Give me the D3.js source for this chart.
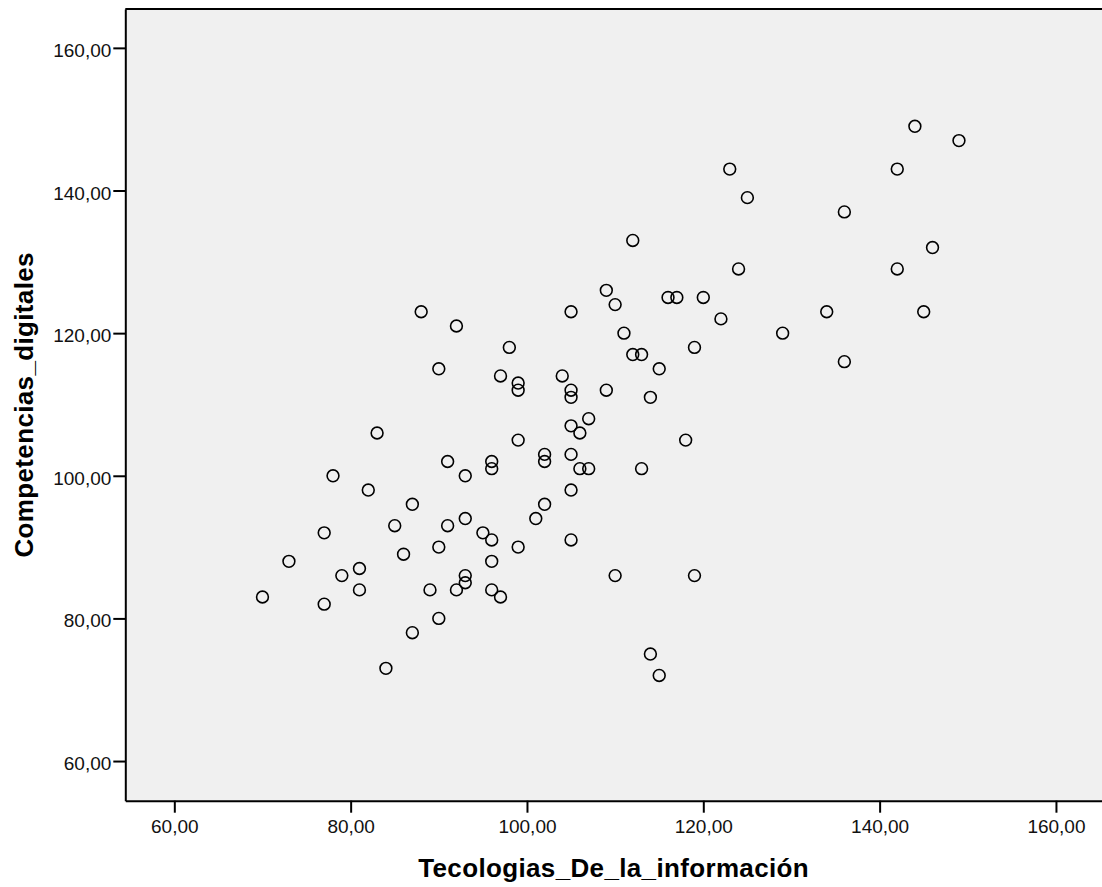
<!DOCTYPE html>
<html lang="es">
<head>
<meta charset="UTF-8">
<title>Dispersión</title>
<script src="https://d3js.org/d3.v7.min.js"></script>
<style>
    body {
        margin: 0;
        padding: 0;
        background: #fff;
        font-family: "Liberation Sans", Arial, sans-serif;
    }
    .axis text {
        font-size: 19px;
        fill: #111;
        font-family: "Liberation Sans", Arial, sans-serif;
    }
    .axis path, .axis line {
        stroke: #000;
        stroke-width: 2;
    }
    .title {
        font-size: 26px;
        font-weight: bold;
        letter-spacing: 0.35px;
        fill: #000;
    }
    .dot {
        fill: none;
        stroke: #000;
        stroke-width: 1.6;
    }
</style>
</head>
<body>
<div id="chart"></div>
<script>
    // Tecologias_De_la_información (x) vs Competencias_digitales (y)
    const tecnologias = [
        70, 73, 77, 77, 78, 79, 81, 81, 82, 83, 84, 85, 86, 87, 87, 88, 89, 90, 90, 90,
        91, 91, 92, 92, 93, 93, 93, 93, 95, 96, 96, 96, 96, 96, 97, 97, 98, 99, 99, 99,
        99, 101, 102, 102, 102, 104, 105, 105, 105, 105, 105, 105, 105, 106, 106, 107, 107, 109, 109, 110,
        110, 111, 112, 112, 113, 113, 114, 114, 115, 115, 116, 117, 118, 119, 119, 120, 122, 123, 124, 125,
        129, 134, 136, 136, 142, 142, 144, 145, 146, 149
    ];
    const competencias = [
        83, 88, 92, 82, 100, 86, 87, 84, 98, 106, 73, 93, 89, 96, 78, 123, 84, 115, 90, 80,
        102, 93, 121, 84, 100, 94, 86, 85, 92, 102, 101, 91, 88, 84, 114, 83, 118, 113, 112, 105,
        90, 94, 103, 102, 96, 114, 123, 112, 111, 107, 103, 98, 91, 106, 101, 108, 101, 126, 112, 124,
        86, 120, 133, 117, 117, 101, 111, 75, 115, 72, 125, 125, 105, 118, 86, 125, 122, 143, 129, 139,
        120, 123, 137, 116, 143, 129, 149, 123, 132, 147
    ];
    const tickValues = [60, 80, 100, 120, 140, 160];
    const xTitle = "Tecologias_De_la_información";
    const yTitle = "Competencias_digitales";

    const width = 1102, height = 887;
    const plotLeft = 125.3, plotRight = 1104, plotTop = 9, plotBottom = 800.7;
    const domain = [54.44, 165.45];

    const svg = d3.select("#chart").append("svg")
        .attr("width", width)
        .attr("height", height);

    const x = d3.scaleLinear().domain(domain).range([plotLeft, plotRight]);
    const y = d3.scaleLinear().domain(domain).range([plotBottom, plotTop]);

    const fmt = d => d3.format(".2f")(d).replace(".", ",");

    // plot background
    svg.append("rect")
        .attr("x", plotLeft)
        .attr("y", plotTop)
        .attr("width", plotRight - plotLeft)
        .attr("height", plotBottom - plotTop)
        .attr("fill", "#f0f0f0");

    // top border
    svg.append("line")
        .attr("x1", plotLeft).attr("x2", plotRight)
        .attr("y1", plotTop).attr("y2", plotTop)
        .attr("stroke", "#000")
        .attr("stroke-width", 2);

    svg.append("g")
        .attr("class", "axis")
        .attr("transform", `translate(0,${plotBottom})`)
        .call(d3.axisBottom(x).tickValues(tickValues).tickFormat(fmt)
            .tickSize(12).tickSizeOuter(0).tickPadding(7));

    const yAxis = svg.append("g")
        .attr("class", "axis")
        .attr("transform", `translate(${plotLeft},0)`)
        .call(d3.axisLeft(y).tickValues(tickValues).tickFormat(fmt)
            .tickSize(12).tickSizeOuter(0).tickPadding(2));
    yAxis.selectAll("text").attr("dy", "0.45em");

    svg.selectAll(".axis text").attr("fill", "#111");

    const points = tecnologias.map((v, i) => ({ x: v, y: competencias[i] }));

    svg.append("g")
        .selectAll("circle")
        .data(points)
        .join("circle")
        .attr("class", "dot")
        .attr("cx", d => x(d.x))
        .attr("cy", d => y(d.y))
        .attr("r", 5.9);

    // axis titles
    svg.append("text")
        .attr("class", "title")
        .attr("x", (plotLeft + width) / 2)
        .attr("y", 877)
        .attr("text-anchor", "middle")
        .text(xTitle);

    svg.append("text")
        .attr("class", "title")
        .attr("transform", "rotate(-90)")
        .attr("x", -(plotTop + plotBottom) / 2)
        .attr("y", 32.5)
        .attr("text-anchor", "middle")
        .text(yTitle);
</script>
</body>
</html>
